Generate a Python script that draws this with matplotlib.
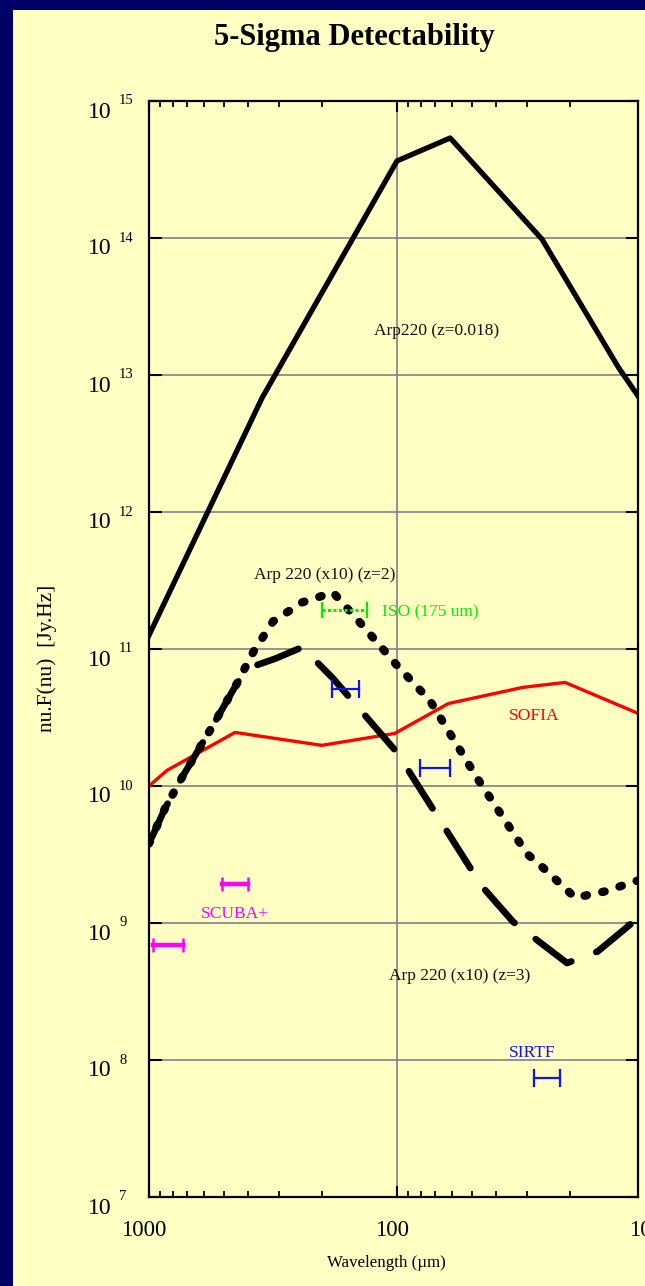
import matplotlib
matplotlib.use("Agg")
import matplotlib.pyplot as plt
from matplotlib.patches import Rectangle
from matplotlib.ticker import FixedLocator, NullLocator

# ---------------- data (wavelength in micron, nu.F(nu) in Jy.Hz) ----------------
arp_lam = [1000, 350, 100, 61, 26, 12.8, 10.7]
arp_flux = [1.26e11, 6.8e12, 3.65e14, 5.37e14, 9.8e13, 1.14e13, 7.1e12]

z2_lam = [1000, 862, 729, 568, 442, 381, 316, 241, 181, 141, 100, 73.6,
          47.6, 29.9, 25.8, 19.1, 14.5, 10.7]
z2_flux = [3.8e9, 6.86e9, 1.19e10, 2.54e10, 5.6e10, 9.4e10, 1.59e11, 2.19e11,
           2.59e11, 1.56e11, 7.6e10, 4.2e10, 1.15e10, 3.2e9, 2.54e9, 1.53e9,
           1.7e9, 2.04e9]

z3_lam = [1000, 862, 729, 568, 442, 403, 310, 241, 181, 100, 45.4, 34, 20.6,
          15.5, 10.7]
z3_flux = [3.8e9, 6.86e9, 1.19e10, 2.54e10, 5.6e10, 7.2e10, 8.5e10, 1.03e11,
           6.1e10, 1.76e10, 1.85e9, 1.02e9, 5.1e8, 6.2e8, 1.08e9]

sofia_lam = [1000, 846, 450, 201, 102, 62, 31, 21, 10.7]
sofia_flux = [1.0e10, 1.30e10, 2.46e10, 1.98e10, 2.42e10, 4.0e10, 5.25e10,
              5.7e10, 3.4e10]

iso_lo = [201]
iso_hi = [132]
iso_flux = [1.91e11]

sirtf_lo = [183, 80.8, 28]
sirtf_hi = [142, 61, 22]
sirtf_flux = [5.07e10, 1.36e10, 7.4e7]

scuba_lo = [963, 508]
scuba_hi = [729, 399]
scuba_flux = [6.95e8, 1.94e9]

x_ticks = [1000, 100, 10]
x_tick_labels = ["1000", "100", "10"]
y_exponents = [7, 8, 9, 10, 11, 12, 13, 14, 15]
x_minor = [900, 800, 700, 600, 500, 400, 300, 200, 90, 80, 70, 60, 50, 40, 30, 20]

# ---------------- styling ----------------
NAVY = "#000066"
YELLOW = "#FFFFC4"
SERIF = "Liberation Serif"
plt.rcParams["font.family"] = [SERIF, "DejaVu Serif"]

fig = plt.figure(figsize=(6.45, 12.86), dpi=100, facecolor=NAVY)
fig.add_artist(Rectangle((13 / 645, 0), 1, 1 - 10 / 1286, transform=fig.transFigure,
                         facecolor=YELLOW, edgecolor="none", zorder=-10))

ax = fig.add_axes([149 / 645, 1 - 1197 / 1286, (638 - 149) / 645, (1197 - 101) / 1286])
ax.set_facecolor(YELLOW)
ax.set_xscale("log")
ax.set_yscale("log")
ax.set_xlim(1000, 10.66)
ax.set_ylim(1e7, 1e15)

for s in ax.spines.values():
    s.set_linewidth(1.6)
    s.set_color("black")

ax.xaxis.set_major_locator(FixedLocator([1000, 100]))
ax.xaxis.set_minor_locator(FixedLocator(x_minor))
ax.yaxis.set_major_locator(FixedLocator([10.0 ** k for k in y_exponents]))
ax.yaxis.set_minor_locator(NullLocator())
ax.tick_params(axis="x", which="major", direction="in", length=8, width=1.5,
               top=True, bottom=True, labelbottom=False)
ax.tick_params(axis="x", which="minor", direction="in", length=4, width=1.3,
               top=True, bottom=True)
ax.tick_params(axis="y", which="major", direction="in", length=9, width=1.5,
               left=True, right=True, labelleft=False)
ax.grid(True, which="major", color="#808080", linewidth=1.2, zorder=0)
ax.set_axisbelow(True)

# curves
ax.plot(sofia_lam, sofia_flux, color="#FF0000", lw=2.4, zorder=2)
ax.plot(arp_lam, arp_flux, color="black", lw=3.8, solid_joinstyle="round", zorder=3)
ax.plot(z2_lam, z2_flux, color="black", lw=6.0, linestyle=(0, (0.3, 1.87)),
        dash_capstyle="round", zorder=3)
ax.plot(z3_lam, z3_flux, color="black", lw=4.8, linestyle=(0, (6.6, 4.0)),
        dash_capstyle="round", zorder=3)

# instrument limits
for lo, hi, f in zip(iso_lo, iso_hi, iso_flux):
    ax.plot([lo, hi], [f, f], color="#00EE00", lw=2.2, linestyle=(0, (1, 0.8)),
            marker="|", ms=11, mew=1.6, zorder=4)
for lo, hi, f in zip(sirtf_lo, sirtf_hi, sirtf_flux):
    ax.plot([lo, hi], [f, f], color="#1010FF", lw=1.6,
            marker="|", ms=13, mew=1.6, zorder=4)
for lo, hi, f in zip(scuba_lo, scuba_hi, scuba_flux):
    ax.plot([lo, hi], [f, f], color="#FF00FF", lw=3.2,
            marker="|", ms=10, mew=1.8, zorder=4)

# annotations
ann = dict(fontsize=12.5, ha="center", va="center")
ax.text(69, 2.1e13, "Arp220 (z=0.018)", color="#111111", **ann)
ax.text(195, 3.45e11, "Arp 220 (x10) (z=2)", color="#111111", **ann)
ax.text(115, 1.85e11, "ISO (175 um)", color="#00EE00", fontsize=12.5, ha="left", va="center")
ax.text(28, 3.22e10, "SOFIA", color="#FF0000", **ann)
ax.text(450, 1.17e9, "SCUBA+", color="#FF00FF", **ann)
ax.text(55.8, 4.13e8, "Arp 220 (x10) (z=3)", color="#111111", **ann)
ax.text(28.6, 1.13e8, "SIRTF", color="#1010FF", **ann)

# tick labels drawn as text
for k in y_exponents:
    ax.annotate("10", xy=(0, 10.0 ** k), xycoords=("axes fraction", "data"),
                xytext=(-37, -11), textcoords="offset pixels", ha="right",
                va="center", fontsize=17, annotation_clip=False)
    ax.annotate(str(k), xy=(0, 10.0 ** k), xycoords=("axes fraction", "data"),
                xytext=(-30, 0), textcoords="offset pixels", ha="left",
                va="center", fontsize=10.5, annotation_clip=False)
for v, lab in zip(x_ticks, x_tick_labels):
    ax.annotate(lab, xy=(v, 0), xycoords=("data", "axes fraction"),
                xytext=(-5, -33), textcoords="offset pixels", ha="center",
                va="center", fontsize=16.5, annotation_clip=False)

fig.text(354 / 645, 1 - 38 / 1286, "5-Sigma Detectability", ha="center", va="center",
         fontsize=22, fontweight="bold")
fig.text(47 / 645, 1 - 658 / 1286, "nu.F(nu)  [Jy.Hz]", rotation=90, ha="center",
         va="center", fontsize=15.5)
fig.text(386 / 645, 1 - 1263 / 1286, "Wavelength (\u00b5m)", ha="center", va="center",
         fontsize=12.2)

fig.savefig("out.png", dpi=100, facecolor=NAVY)
